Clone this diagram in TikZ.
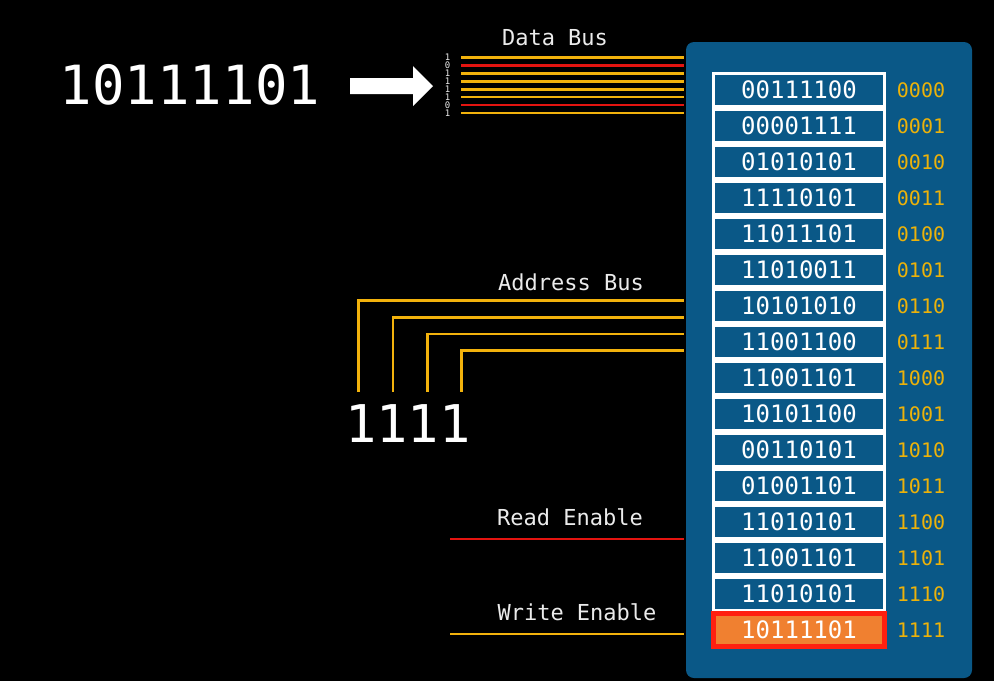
\documentclass[tikz,border=0pt]{standalone}
\usepackage{fontspec}
\setmonofont{DejaVu Sans Mono}
\definecolor{panelblue}{RGB}{10,88,135}
\definecolor{busyellow}{RGB}{242,178,12}
\definecolor{busred}{RGB}{228,20,16}
\definecolor{addryellow}{RGB}{236,178,10}
\definecolor{hiorange}{RGB}{240,128,48}
\definecolor{hired}{RGB}{255,32,16}
\definecolor{labelgray}{RGB}{235,235,235}
\tikzset{
  cell/.style={draw=white, fill=panelblue, line width=3.5pt, minimum width=171pt, minimum height=33pt, inner sep=0pt, text=white, font=\ttfamily\fontsize{24}{24}\selectfont},
  hicell/.style={cell, draw=hired, fill=hiorange, line width=4.5pt},
  addr/.style={text=addryellow, font=\ttfamily\fontsize{20}{20}\selectfont, inner sep=0pt},
  buslabel/.style={text=labelgray, font=\ttfamily\fontsize{22}{22}\selectfont, inner sep=0pt},
  bitlabel/.style={text=labelgray, font=\ttfamily\fontsize{9}{9}\selectfont, inner sep=0pt},
  ybus/.style={draw=busyellow, line width=2.5pt},
  rbus/.style={draw=busred, line width=2.5pt},
  bignum/.style={text=white, font=\ttfamily\fontsize{54}{54}\selectfont, inner sep=0pt}
}
\begin{document}
\begin{tikzpicture}[x=1pt,y=-1pt]
\fill[black] (0,0) rectangle (994,681);
\useasboundingbox (0,0) rectangle (994,681);
% memory panel
\node[fill=panelblue, rounded corners=8pt, minimum width=286pt, minimum height=636pt, inner sep=0pt] (mem) at (829,360) {};
% cells
\foreach \i/\v/\a in {0/00111100/0000,1/00001111/0001,2/01010101/0010,3/11110101/0011,4/11011101/0100,5/11010011/0101,6/10101010/0110,7/11001100/0111,8/11001101/1000,9/10101100/1001,10/00110101/1010,11/01001101/1011,12/11010101/1100,13/11001101/1101,14/11010101/1110}{
  \node[cell] (c\i) at (799,{90+36*\i}) {\v};
  \node[addr] (a\i) at (921,{90+36*\i}) {\a};
}
\node[hicell] (c15) at (799,630) {10111101};
\node[addr] (a15) at (921,630) {1111};
% input number and arrow
\node[bignum] (num) at (190,85) {10111101};
\fill[white] (350,78) -- (413,78) -- (413,66) -- (433,86) -- (413,106) -- (413,94) -- (350,94) -- cycle;
% data bus
\node[buslabel] (dbl) at (555,38) {Data Bus};
\foreach \k/\y/\s/\b in {0/57.5/ybus/1,1/65.5/rbus/0,2/73.5/ybus/1,3/81.3/ybus/1,4/89.3/ybus/1,5/97.2/ybus/1,6/105/rbus/0,7/112.8/ybus/1}{
  \node[bitlabel] (bit\k) at (447.5,\y) {\b};
  \coordinate (ds\k) at (461,\y);
  \coordinate (de\k) at (mem.west |- ds\k);
  \draw[\s] (ds\k) -- ([xshift=-2pt]de\k);
}
% address bus
\node[buslabel] (abl) at (571,282) {Address Bus};
\node[bignum, font=\ttfamily\fontsize{52}{52}\selectfont] (addrnum) at (408,424) {1111};
\foreach \k/\x/\y in {0/358.5/300.5,1/393/317.3,2/427.7/334,3/461.7/350.7}{
  \coordinate (ab\k) at (\x,391.5);
  \coordinate (ae\k) at ([xshift=-2pt]mem.west |- 0,\y);
  \draw[ybus, line cap=butt] (ab\k) |- (ae\k);
}
% read / write enable
\node[buslabel] (rel) at (570,517) {Read Enable};
\coordinate (rs) at (450,539);
\draw[rbus] (rs) -- ([xshift=-2pt]mem.west |- rs);
\node[buslabel] (wel) at (577,612) {Write Enable};
\coordinate (ws) at (450,634);
\draw[ybus] (ws) -- ([xshift=-2pt]mem.west |- ws);
\end{tikzpicture}
\end{document}
